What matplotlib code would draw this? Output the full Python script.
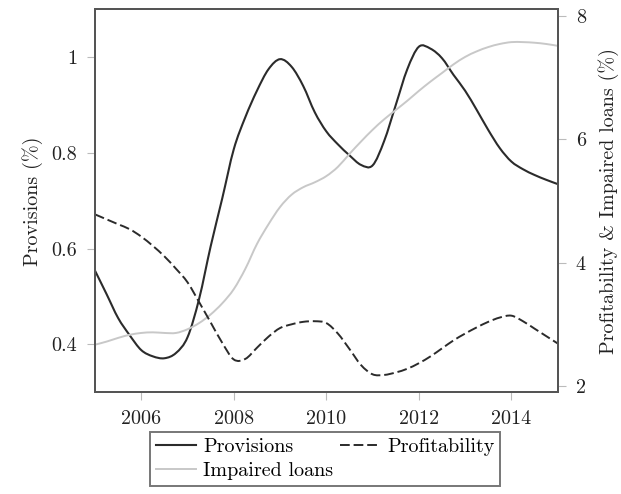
import matplotlib
matplotlib.use("Agg")
import matplotlib.pyplot as plt
from matplotlib.ticker import FixedLocator, FuncFormatter
from matplotlib.path import Path
from matplotlib.patches import PathPatch
from matplotlib.lines import Line2D

plt.rcParams["font.family"] = "serif"
plt.rcParams["font.serif"] = ["cmr10", "DejaVu Serif"]
plt.rcParams["mathtext.fontset"] = "cm"
plt.rcParams["axes.formatter.use_mathtext"] = True

# Quarterly observations, 2005Q1 .. 2015Q1
years = [2005 + 0.25 * i for i in range(41)]

provisions = [
    0.554, 0.505, 0.455, 0.419, 0.388, 0.375, 0.371, 0.382, 0.415, 0.495,
    0.605, 0.705, 0.808, 0.875, 0.930, 0.975, 0.996, 0.980, 0.940, 0.885,
    0.845, 0.818, 0.795, 0.775, 0.774, 0.825, 0.900, 0.975, 1.022, 1.018,
    0.998, 0.963, 0.930, 0.890, 0.848, 0.810, 0.782, 0.766, 0.754, 0.744,
    0.735,
]

profitability = [
    4.78, 4.70, 4.62, 4.54, 4.42, 4.27, 4.10, 3.90, 3.68, 3.36,
    3.03, 2.70, 2.43, 2.44, 2.62, 2.80, 2.94, 3.00, 3.04, 3.05,
    3.02, 2.85, 2.60, 2.34, 2.19, 2.18, 2.22, 2.28, 2.37, 2.48,
    2.61, 2.74, 2.85, 2.95, 3.04, 3.11, 3.14, 3.05, 2.93, 2.81,
    2.69,
]

impaired_loans = [
    2.67, 2.72, 2.78, 2.83, 2.86, 2.87, 2.86, 2.86, 2.92, 3.02,
    3.16, 3.34, 3.57, 3.90, 4.30, 4.62, 4.90, 5.10, 5.22, 5.30,
    5.40, 5.55, 5.76, 5.96, 6.15, 6.32, 6.47, 6.62, 6.78, 6.93,
    7.07, 7.21, 7.33, 7.42, 7.49, 7.54, 7.57, 7.57, 7.56, 7.54,
    7.51,
]

x_ticks = [2006, 2008, 2010, 2012, 2014]
left_ticks = [0.4, 0.6, 0.8, 1.0]
right_ticks = [2, 4, 6, 8]

dark = "#2b2b2b"
light = "#c8c8c8"
spine_col = "#555555"
tick_col = "#bbbbbb"
fs = 14.5


def smooth_path(xs, ys):
    """Cubic Bezier path through the points (Catmull-Rom tangents)."""
    pts = list(zip(xs, ys))
    n = len(pts)
    verts = [pts[0]]
    codes = [Path.MOVETO]
    for i in range(n - 1):
        p0 = pts[max(i - 1, 0)]
        p1 = pts[i]
        p2 = pts[i + 1]
        p3 = pts[min(i + 2, n - 1)]
        c1 = (p1[0] + (p2[0] - p0[0]) / 6, p1[1] + (p2[1] - p0[1]) / 6)
        c2 = (p2[0] - (p3[0] - p1[0]) / 6, p2[1] - (p3[1] - p1[1]) / 6)
        verts += [c1, c2, p2]
        codes += [Path.CURVE4] * 3
    return Path(verts, codes)


fig = plt.figure(figsize=(6.21, 4.94), dpi=100)
ax = fig.add_axes([0.153, 0.206, 0.745, 0.775])
ax2 = ax.twinx()

styles = {
    "Provisions": dict(color=dark, lw=1.5, ls="-"),
    "Profitability": dict(color=dark, lw=1.4, ls=(0, (5, 2))),
    "Impaired loans": dict(color=light, lw=1.4, ls="-"),
}

ax.add_patch(PathPatch(smooth_path(years, provisions), fill=False,
                       edgecolor=styles["Provisions"]["color"],
                       lw=styles["Provisions"]["lw"], joinstyle="round"))
ax2.add_patch(PathPatch(smooth_path(years, impaired_loans), fill=False,
                        edgecolor=styles["Impaired loans"]["color"],
                        lw=styles["Impaired loans"]["lw"], joinstyle="round"))
ax2.add_patch(PathPatch(smooth_path(years, profitability), fill=False,
                        edgecolor=styles["Profitability"]["color"],
                        lw=styles["Profitability"]["lw"],
                        ls=styles["Profitability"]["ls"], joinstyle="round"))

ax.set_xlim(2005, 2015)
ax.set_ylim(0.3, 1.1)
ax2.set_ylim(1.9, 8.1)

fmt = FuncFormatter(lambda v, p: f"{v:g}")
ax.xaxis.set_major_locator(FixedLocator(x_ticks))
ax.xaxis.set_major_formatter(fmt)
ax.yaxis.set_major_locator(FixedLocator(left_ticks))
ax.yaxis.set_major_formatter(fmt)
ax2.yaxis.set_major_locator(FixedLocator(right_ticks))
ax2.yaxis.set_major_formatter(fmt)

for a in (ax, ax2):
    a.tick_params(direction="out", length=6, width=0.8, color=tick_col,
                  labelsize=fs, labelcolor="#222222", pad=7)
    for s in a.spines.values():
        s.set_color(spine_col)
        s.set_linewidth(1.4)

ax.set_ylabel("Provisions (%)", fontsize=fs, color="#222222", labelpad=6)
ax2.set_ylabel("Profitability & Impaired loans (%)", fontsize=fs,
               color="#222222", labelpad=9)

handles = [Line2D([], [], label=k, **styles[k])
           for k in ("Provisions", "Impaired loans", "Profitability")]
leg = fig.legend(handles=handles, ncol=2, loc="upper left",
                 bbox_to_anchor=(0.2415, 0.1255), fontsize=fs,
                 frameon=True, fancybox=False, borderpad=0.3,
                 handlelength=2.0, columnspacing=0.3, labelspacing=0.3,
                 handletextpad=0.35, borderaxespad=0)
leg.get_frame().set_edgecolor(spine_col)
leg.get_frame().set_linewidth(1.4)

fig.savefig("out.png", dpi=100)
